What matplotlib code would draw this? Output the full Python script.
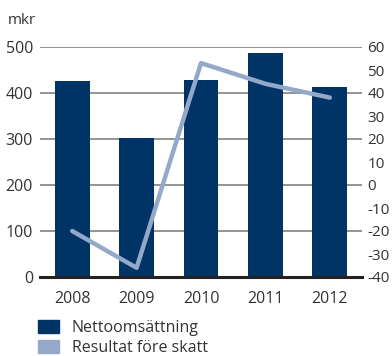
import matplotlib
matplotlib.use("Agg")
import matplotlib.pyplot as plt
from matplotlib.patches import Patch

years = ["2008", "2009", "2010", "2011", "2012"]
nettoomsattning = [426, 302, 428, 487, 412]
resultat = [-20, -36, 53, 44, 38]
left_ticks = [0, 100, 200, 300, 400, 500]
right_ticks = [-40, -30, -20, -10, 0, 10, 20, 30, 40, 50, 60]

bar_color = "#003466"
line_color = "#94a9c9"
text_color = "#333333"

plt.rcParams["font.family"] = ["Open Sans", "DejaVu Sans"]
plt.rcParams["axes.unicode_minus"] = False

W, H = 392, 356
fig = plt.figure(figsize=(W / 100, H / 100), dpi=100)
ax = fig.add_axes([40 / W, (H - 277) / H, 322 / W, 230 / H])

x = list(range(len(years)))
ax.bar(x, nettoomsattning, width=0.54, color=bar_color, zorder=2)
ax.set_xlim(-0.5, len(years) - 0.5)
ax.set_ylim(0, 500)
ax.set_yticks(left_ticks)
ax.set_xticks(x)
ax.set_xticklabels(years)
for y in left_ticks[1:]:
    ax.axhline(y, color="#808080", lw=1.2, zorder=1)
for s in ["top", "right", "left"]:
    ax.spines[s].set_visible(False)
ax.spines["bottom"].set_linewidth(2.2)
ax.spines["bottom"].set_color("#222222")
ax.tick_params(axis="both", length=0, labelsize=11.5, colors=text_color)
ax.tick_params(axis="x", pad=10)
ax.tick_params(axis="y", pad=5)

ax2 = ax.twinx()
ax2.plot(x, resultat, color=line_color, lw=3.2, solid_capstyle="round",
         solid_joinstyle="round", zorder=3)
ax2.set_ylim(-40, 60)
ax2.set_yticks(right_ticks)
for s in ["top", "right", "left", "bottom"]:
    ax2.spines[s].set_visible(False)
ax2.tick_params(axis="y", length=0, labelsize=11, colors=text_color, pad=4)

fig.text(8 / W, 1 - 21 / H, "mkr", fontsize=11, color=text_color, va="center")

handles = [Patch(color=bar_color, label="Nettoomsättning"),
           Patch(color=line_color, label="Resultat före skatt")]
fig.legend(handles=handles, loc="upper left", bbox_to_anchor=(38 / W, 1 - 320 / H),
           frameon=False, fontsize=11.5, handlelength=1.3, handleheight=0.9,
           handletextpad=0.8, labelspacing=0.25, borderpad=0, borderaxespad=0,
           labelcolor=text_color)

fig.savefig("out.png", dpi=100)
